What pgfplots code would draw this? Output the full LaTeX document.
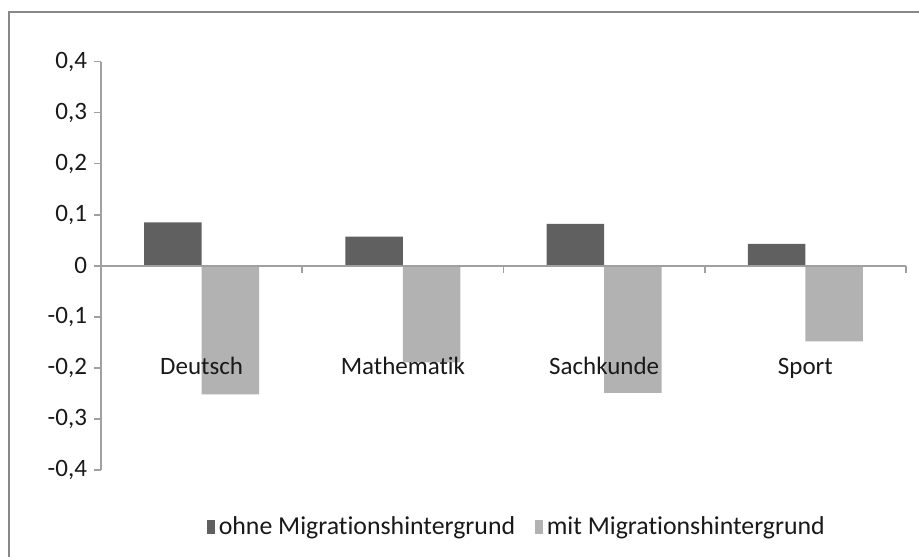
\documentclass[border=0pt]{standalone}
\usepackage{fontspec}
\setmainfont{Carlito}[Ligatures={NoCommon,NoContextual,NoRare}]
\usepackage{pgfplots}
\pgfplotsset{compat=1.18}
\definecolor{darkbar}{HTML}{606060}
\definecolor{lightbar}{HTML}{B2B2B2}
\definecolor{axisgray}{HTML}{A0A0A0}
\definecolor{framegray}{HTML}{888888}
\begin{document}
\begin{tikzpicture}
\useasboundingbox (0,0) rectangle (459.5pt,278pt);
\draw[framegray, line width=1pt] (4.5pt,-5pt) -- (4.5pt,272.2pt) -- (465pt,272.2pt);
\begin{axis}[
    at={(50.5pt,43pt)}, anchor=south west,
    scale only axis, width=402.5pt, height=204.2pt,
    ybar=0pt, bar width=28.75pt,
    xmin=-0.5, xmax=3.5, ymin=-0.4, ymax=0.4,
    axis y line*=left, axis x line*=middle,
    axis line style={axisgray, line width=0.8pt},
    ytick={-0.4,-0.3,-0.2,-0.1,0,0.1,0.2,0.3,0.4},
    yticklabels={{-0,4},{-0,3},{-0,2},{-0,1},0,{0,1},{0,2},{0,3},{0,4}},
    xtick={0.5,1.5,2.5,3.5}, xticklabels={},
    extra x ticks={0,1,2,3},
    extra x tick labels={Deutsch,Mathematik,Sachkunde,Sport},
    extra x tick style={major tick length=0pt, xticklabel style={anchor=base, yshift=-54.4pt}},
    tick align=outside, major tick length=3.5pt,
    tick style={axisgray, line width=0.8pt},
    ticklabel style={font=\fontsize{12.5}{14}\selectfont, text=black!90},
    legend style={at={(0.518,-0.1396)}, anchor=center, draw=none, legend columns=2,
        font=\fontsize{12.9}{14}\selectfont, text=black!90,
        nodes={inner xsep=2pt},
        /tikz/every even column/.append style={column sep=8pt}},
    legend image code/.code={\fill[#1] (0pt,-3.3pt) rectangle (3.8pt,3.3pt);},
    axis on top,
]
\addplot[fill=darkbar, draw=none] coordinates {(0,0.085) (1,0.057) (2,0.082) (3,0.043)};
\addplot[fill=lightbar, draw=none] coordinates {(0,-0.252) (1,-0.189) (2,-0.249) (3,-0.148)};
\legend{ohne Migrationshintergrund, mit Migrationshintergrund}
\end{axis}
\end{tikzpicture}
\end{document}
